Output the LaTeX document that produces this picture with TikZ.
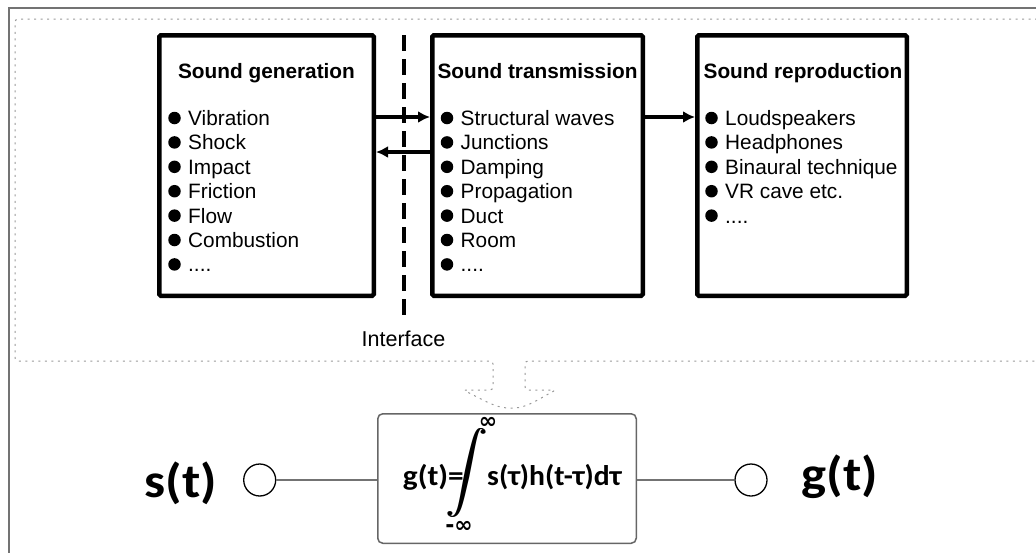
\documentclass[tikz,border=0pt]{standalone}
\usepackage{fontspec}
\setmainfont{Liberation Sans}
\newfontfamily\calfont{Carlito}
\newfontfamily\djfont{DejaVu Sans}
\usetikzlibrary{arrows.meta,calc}
\newcommand\etcdots{....}
\newcommand\widen[1]{\scalebox{1.1}[1]{#1}}
\newcommand\heavyint{\scalebox{4.2}[4]{$\displaystyle\int$}}
\begin{document}
\begin{tikzpicture}[x=1pt,y=-1pt,
  stagebox/.style={draw,line width=4.5pt,rounded corners=1.5pt,minimum height=260.5pt,inner sep=0pt},
  titletext/.style={font=\fontsize{20.8}{24}\selectfont\bfseries,inner sep=0pt,anchor=base},
  itemtext/.style={font=\fontsize{20.8}{24}\selectfont,inner sep=0pt,anchor=base west},
  bulletdot/.style={circle,fill=black,minimum size=12.5pt,inner sep=0pt},
  flow/.style={line width=3.5pt,-{Latex[length=12pt,width=12pt]}},
  dotline/.style={draw=black!40,line width=1pt,dash pattern=on 2pt off 4.5pt},
  sigline/.style={draw=black!55,line width=1.3pt},
  port/.style={circle,draw=black,line width=1.3pt,minimum size=32pt,inner sep=0pt,fill=white},
  siglabel/.style={font=\calfont\bfseries\fontsize{48}{52}\selectfont,inner sep=0pt},
  formtext/.style={font=\calfont\bfseries\fontsize{28.5}{30}\selectfont,inner sep=0pt},
  inftext/.style={font=\djfont\bfseries\fontsize{22}{22}\selectfont,inner sep=0pt}
]
\useasboundingbox (0,0) rectangle (1036,552);
\begin{scope}
  \clip (0,0) rectangle (1036,552);
  \draw[black!55,line width=1.5pt] (1050,8) -- (9,8) -- (9,570);
  \draw[dotline,rounded corners=3pt] (1050,19) -- (15,19) -- (15,361) -- (493,361) -- (493,390) -- (463,390)
     .. controls (480,398) and (495,408) .. (511,408)
     .. controls (527,408) and (542,397) .. (556,390)
     -- (525,390) -- (525,361) -- (1050,361);
\end{scope}

% stage boxes
\node[stagebox,minimum width=214.5pt] (gen) at (266.5,165.5) {};
\node[stagebox,minimum width=210.5pt] (trans) at (537.5,165.5) {};
\node[stagebox,minimum width=209.5pt] (repro) at (802,165.5) {};

\node[titletext] (gen-t) at (266.5,78) {Sound generation};
\node[titletext] (trans-t) at (537.5,78) {Sound transmission};
\node[titletext] (repro-t) at (803,78) {Sound reproduction};

\foreach \txt [count=\i from 0] in {Vibration,Shock,Impact,Friction,Flow,Combustion,\etcdots}{
  \pgfmathsetmacro\yy{118+24.4*\i}
  \node[bulletdot] (gb-\i) at (174.5,\yy) {};
  \node[itemtext] (gi-\i) at (188,\yy+7.5) {\txt};
}
\foreach \txt [count=\i from 0] in {Structural waves,Junctions,Damping,Propagation,Duct,Room,\etcdots}{
  \pgfmathsetmacro\yy{118+24.4*\i}
  \node[bulletdot] (tb-\i) at (447,\yy) {};
  \node[itemtext] (ti-\i) at (460.5,\yy+7.5) {\txt};
}
\foreach \txt [count=\i from 0] in {Loudspeakers,Headphones,Binaural technique,VR cave etc.,\etcdots}{
  \pgfmathsetmacro\yy{118+24.4*\i}
  \node[bulletdot] (rb-\i) at (711.5,\yy) {};
  \node[itemtext] (ri-\i) at (725,\yy+7.5) {\txt};
}

% arrows between stages
\coordinate (fwd) at (0,117);
\coordinate (bwd) at (0,152);
\draw[flow] (gen.east |- fwd) -- (trans.west |- fwd);
\draw[flow] (trans.west |- bwd) -- (gen.east |- bwd);
\draw[flow] (trans.east |- fwd) -- (repro.west |- fwd);

% interface
\coordinate (ifc-top) at (404,35);
\coordinate (ifc-bot) at (404,317);
\draw[line width=4pt,dash pattern=on 16pt off 8pt] (ifc-top) -- (ifc-bot);
\node[font=\fontsize{21.5}{24}\selectfont,inner sep=0pt,anchor=base] (ifc) at (403.5,346) {Interface};

% convolution
\node[draw=black!60,line width=1.5pt,rounded corners=5pt,minimum width=258.5pt,minimum height=129.5pt,fill=white] (conv) at (507,478.5) {};
\node[port] (sin) at (259.7,480) {};
\node[port] (gout) at (751,480) {};
\draw[sigline] (sin.east) -- (conv.west |- sin.east);
\draw[sigline] (conv.east |- gout.west) -- (gout.west);
\node[siglabel] (s-lab) at (181,483) {\widen{s(t)}};
\node[siglabel] (g-lab) at (840,477) {\widen{g(t)}};

\node[formtext,anchor=base east] (f-lhs) at (464,485) {\widen{g(t)=}};
\node[inner sep=0pt] (f-int) at (467,473) {\rlap{\heavyint}\hspace{1.3pt}\heavyint};
\node[formtext,anchor=base west] (f-rhs) at (487,485) {\scalebox{1.04}[1]{s(τ)h(t-τ)dτ}};
\node[inftext] (f-up) at (488,423) {∞};
\node[inftext] (f-lo) at (459,527) {-∞};
\end{tikzpicture}
\end{document}
